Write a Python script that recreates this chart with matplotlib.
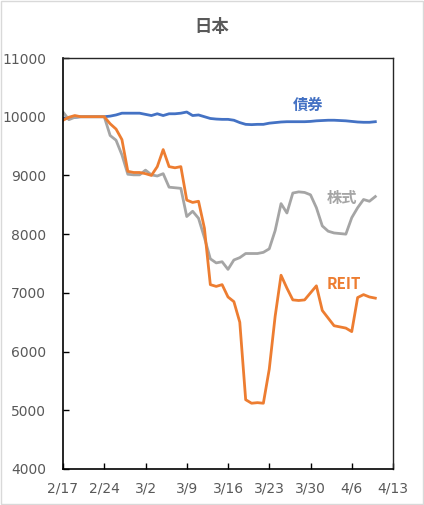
import pandas as pd
import matplotlib
matplotlib.use("Agg")
import matplotlib.pyplot as plt
from matplotlib.patches import Rectangle

# index, base = 10000 (daily, calendar days from 2/17)
start = "2020-02-17"

bonds = [9960, 9990, 9990, 10000, 10000, 10000, 10000, 10000, 10010, 10030,
         10060, 10060, 10060, 10060, 10040, 10020, 10050, 10020, 10050, 10050,
         10060, 10080, 10020, 10030, 10000, 9970, 9960, 9955, 9955, 9940,
         9900, 9870, 9865, 9870, 9870, 9890, 9900, 9910, 9915, 9915,
         9915, 9915, 9920, 9930, 9935, 9940, 9940, 9935, 9930, 9920,
         9910, 9905, 9905, 9915]

stocks = [10080, 9950, 9990, 10000, 10000, 10000, 10000, 10000, 9680, 9600,
          9350, 9020, 9010, 9010, 9090, 9010, 8990, 9030, 8800, 8790,
          8780, 8300, 8390, 8270, 7940, 7580, 7510, 7530, 7400, 7560,
          7600, 7670, 7670, 7670, 7690, 7750, 8060, 8520, 8360, 8700,
          8720, 8710, 8670, 8450, 8140, 8050, 8020, 8010, 8000, 8280,
          8450, 8590, 8560, 8640]

reit = [9940, 9990, 10020, 10000, 10000, 10000, 10000, 10000, 9880, 9790,
        9610, 9070, 9050, 9050, 9030, 9000, 9150, 9440, 9150, 9130,
        9150, 8580, 8540, 8560, 8100, 7140, 7110, 7140, 6930, 6850,
        6500, 5180, 5120, 5130, 5120, 5700, 6600, 7300, 7080, 6880,
        6870, 6880, 7000, 7120, 6700, 6570, 6440, 6420, 6400, 6340,
        6920, 6970, 6930, 6910]

tick_dates = ["2020-02-17", "2020-02-24", "2020-03-02", "2020-03-09", "2020-03-16",
              "2020-03-23", "2020-03-30", "2020-04-06", "2020-04-13"]
tick_labels = ["2/17", "2/24", "3/2", "3/9", "3/16", "3/23", "3/30", "4/6", "4/13"]

dates = pd.date_range(start, periods=len(bonds), freq="D")

cjk = ["Noto Sans CJK JP", "DejaVu Sans"]
text_color = "#595959"

fig = plt.figure(figsize=(4.24, 5.05), dpi=100)
ax = fig.add_axes([63 / 424, 36 / 505, 330 / 424, 411 / 505])

ax.plot(dates, bonds, color="#4472C4", lw=2.0, solid_joinstyle="round")
ax.plot(dates, stocks, color="#A5A5A5", lw=2.0, solid_joinstyle="round")
ax.plot(dates, reit, color="#ED7D31", lw=2.0, solid_joinstyle="round")

ax.set_ylim(4000, 11000)
ax.set_yticks(range(4000, 11001, 1000))
ax.set_xlim(pd.Timestamp(tick_dates[0]), pd.Timestamp(tick_dates[-1]))
ax.set_xticks([pd.Timestamp(d) for d in tick_dates])
ax.set_xticklabels(tick_labels)

ax.tick_params(axis="both", direction="in", length=4, width=1,
               labelsize=10, colors="black")
ax.tick_params(axis="x", pad=9)
ax.tick_params(axis="y", pad=12)
for lab in ax.get_xticklabels() + ax.get_yticklabels():
    lab.set_color(text_color)

for side in ["left", "bottom"]:
    ax.spines[side].set_color("black")
    ax.spines[side].set_linewidth(1.2)
for side in ["top", "right"]:
    ax.spines[side].set_color("#262626")
    ax.spines[side].set_linewidth(1.0)

# series labels
ax.text(pd.Timestamp("2020-03-29 16:00"), 10200, "債券", color="#4472C4", fontsize=11,
        fontweight="bold", family=cjk, ha="center", va="center")
ax.text(pd.Timestamp("2020-04-04 08:00"), 8620, "株式", color="#A5A5A5", fontsize=11,
        fontweight="bold", family=cjk, ha="center", va="center")
ax.text(pd.Timestamp("2020-04-04 16:00"), 7150, "REIT", color="#ED7D31", fontsize=11,
        fontweight="bold", family=cjk, ha="center", va="center")

fig.text(212 / 424, 1 - 27 / 505, "日本", color=text_color, fontsize=12.5,
         fontweight="bold", family=cjk, ha="center", va="center")

fig.patches.append(Rectangle((0.002, 0.002), 0.996, 0.996, transform=fig.transFigure,
                             fill=False, edgecolor="#D9D9D9", lw=1.0))

fig.savefig("out.png", dpi=100)
